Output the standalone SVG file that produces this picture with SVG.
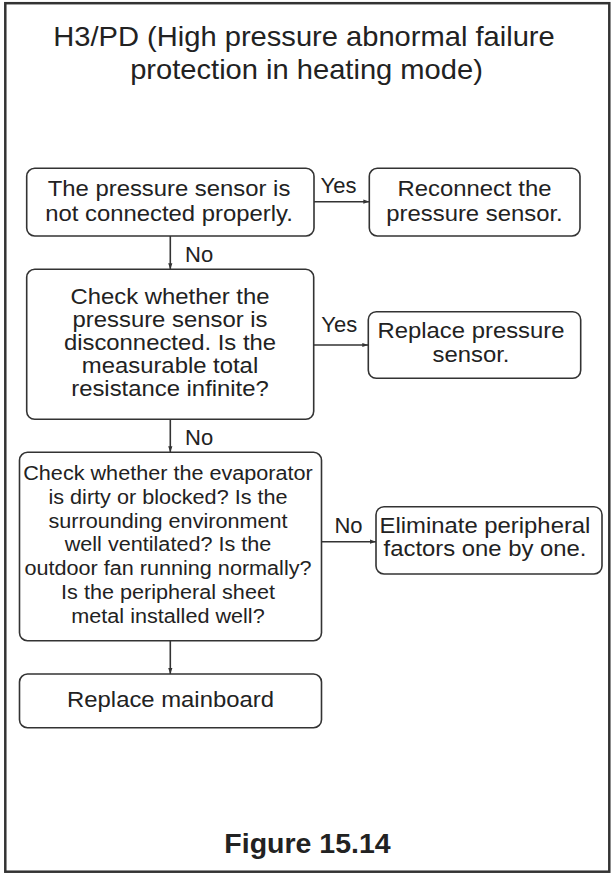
<svg xmlns="http://www.w3.org/2000/svg" width="611" height="873" viewBox="0 0 611 873">
<defs>
<style>
.frame{fill:#fff;stroke:#333;stroke-width:2.5}
.box{fill:#fff;stroke:#333;stroke-width:1.6}
text{font-family:"Liberation Sans",Arial,Helvetica,sans-serif;fill:#222}
.t{text-anchor:middle}
.title{font-size:28px}
.bt{font-size:21.5px}
.ct{font-size:21px}
.lbl{font-size:22px}
.fig{font-size:28.5px;font-weight:bold}
.conn{stroke:#333;stroke-width:1.6;fill:none;marker-end:url(#arr)}
</style>
<marker id="arr" viewBox="0 0 10 10" refX="10" refY="5" markerWidth="6" markerHeight="6" markerUnits="userSpaceOnUse" orient="auto">
<path d="M0,1.5 L10,5 L0,8.5 z" fill="#333"/>
</marker>
</defs>
<rect class="frame" x="5.3" y="3.2" width="604" height="868.5"/>
<g id="title">
<g transform="translate(304,0) scale(1.04,1)"><text class="t title" x="0" y="46">H3/PD (High pressure abnormal failure</text></g>
<g transform="translate(306.5,0) scale(1.04,1)"><text class="t title" x="0" y="79.5">protection in heating mode)</text></g>
</g>
<g id="n1">
<rect class="box" x="26.7" y="168.3" width="287.3" height="67.7" rx="8"/>
<g transform="translate(169,0) scale(1.11,1)">
<text class="t bt" x="0" y="196">The pressure sensor is</text>
<text class="t bt" x="0" y="221">not connected properly.</text>
</g>
</g>
<g id="n2">
<rect class="box" x="369.3" y="168.3" width="210.7" height="67.7" rx="8"/>
<g transform="translate(474.5,0) scale(1.11,1)">
<text class="t bt" x="0" y="196">Reconnect the</text>
<text class="t bt" x="0" y="221.5">pressure sensor.</text>
</g>
</g>
<g id="n3">
<rect class="box" x="26.7" y="269.3" width="287" height="150" rx="8"/>
<g transform="translate(170,0) scale(1.11,1)">
<text class="t bt" x="0" y="304">Check whether the</text>
<text class="t bt" x="0" y="327">pressure sensor is</text>
<text class="t bt" x="0" y="350">disconnected. Is the</text>
<text class="t bt" x="0" y="373">measurable total</text>
<text class="t bt" x="0" y="396">resistance infinite?</text>
</g>
</g>
<g id="n4">
<rect class="box" x="368.3" y="311.7" width="212.4" height="66.6" rx="8"/>
<g transform="translate(471,0) scale(1.11,1)">
<text class="t bt" x="0" y="338.3">Replace pressure</text>
<text class="t bt" x="0" y="361.7">sensor.</text>
</g>
</g>
<g id="n5">
<rect class="box" x="19.5" y="452.3" width="302" height="188.4" rx="8"/>
<g transform="translate(168,0) scale(1.03,1)">
<text class="t ct" x="0" y="480">Check whether the evaporator</text>
<text class="t ct" x="0" y="503.8">is dirty or blocked? Is the</text>
<text class="t ct" x="0" y="527.6">surrounding environment</text>
<text class="t ct" x="0" y="551.4">well ventilated? Is the</text>
<text class="t ct" x="0" y="575.2">outdoor fan running normally?</text>
<text class="t ct" x="0" y="599">Is the peripheral sheet</text>
<text class="t ct" x="0" y="622.8">metal installed well?</text>
</g>
</g>
<g id="n6">
<rect class="box" x="376" y="506.7" width="226" height="67.3" rx="8"/>
<g transform="translate(485,0) scale(1.11,1)">
<text class="t bt" x="0" y="533.3">Eliminate peripheral</text>
<text class="t bt" x="0" y="556">factors one by one.</text>
</g>
</g>
<g id="n7">
<rect class="box" x="19.5" y="674" width="302" height="53.7" rx="8"/>
<g transform="translate(170.5,0) scale(1.11,1)">
<text class="t bt" x="0" y="706.7">Replace mainboard</text>
</g>
</g>
<g id="connectors">
<line class="conn" x1="314" y1="201.7" x2="369.3" y2="201.7"/>
<text class="lbl" x="320.5" y="193.3">Yes</text>
<line class="conn" x1="170.3" y1="236" x2="170.3" y2="269.3"/>
<text class="lbl" x="185" y="261.7">No</text>
<line class="conn" x1="313.7" y1="345" x2="368.3" y2="345"/>
<text class="lbl" x="321.3" y="332.3">Yes</text>
<line class="conn" x1="170.3" y1="419.3" x2="170.3" y2="452.3"/>
<text class="lbl" x="185" y="445">No</text>
<line class="conn" x1="321.5" y1="541.7" x2="376" y2="541.7"/>
<text class="lbl" x="334.4" y="533.3">No</text>
<line class="conn" x1="170.3" y1="640.7" x2="170.3" y2="674"/>
</g>
<g id="caption">
<text class="t fig" x="307.5" y="853.3">Figure 15.14</text>
</g>
</svg>
